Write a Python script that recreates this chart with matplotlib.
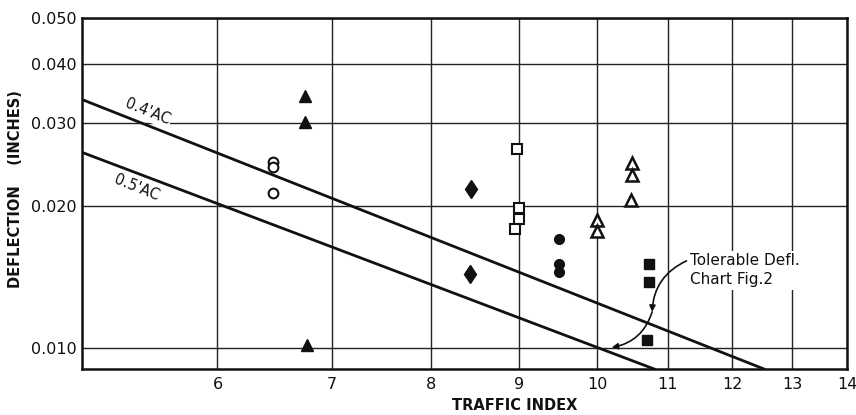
import matplotlib
matplotlib.use("Agg")
import matplotlib.pyplot as plt
from matplotlib.ticker import FixedLocator, FixedFormatter, NullLocator

# data (traffic index vs deflection, inches)
open_circle_x = [6.47, 6.47, 6.47]
open_circle_y = [0.0248, 0.0242, 0.0213]
fill_tri_x = [6.75, 6.75, 6.77]
fill_tri_y = [0.0341, 0.0301, 0.01015]
diamond_x = [8.44, 8.43]
diamond_y = [0.0217, 0.01434]
open_sq_x = [8.98, 9.0, 9.0, 8.95]
open_sq_y = [0.0264, 0.0198, 0.0188, 0.0179]
fill_circle_x = [9.5, 9.5, 9.5]
fill_circle_y = [0.0170, 0.0151, 0.0145]
open_tri_x = [10.48, 10.48, 10.47, 10.0, 10.0]
open_tri_y = [0.0246, 0.0232, 0.0206, 0.0187, 0.0177]
fill_sq_x = [10.72, 10.72, 10.7]
fill_sq_y = [0.0151, 0.0138, 0.0104]

# tolerable deflection lines
ac04_x = [5.0, 12.52]
ac04_y = [0.0336, 0.00903]
ac05_x = [5.0, 10.8]
ac05_y = [0.02597, 0.00903]

x_ticks = [6, 7, 8, 9, 10, 11, 12, 13, 14]
x_labels = ["6", "7", "8", "9", "10", "11", "12", "13", "14"]
y_ticks = [0.010, 0.020, 0.030, 0.040, 0.050]
y_labels = ["0.010", "0.020", "0.030", "0.040", "0.050"]

fig = plt.figure(figsize=(8.56, 4.15), dpi=100)
ax = fig.add_axes([82 / 856, 1 - 369 / 415, 765 / 856, 351 / 415])
ax.set_xscale("log")
ax.set_yscale("log")
ax.set_xlim(5.0, 14.0)
ax.set_ylim(0.00903, 0.05)

ax.xaxis.set_major_locator(FixedLocator(x_ticks))
ax.xaxis.set_major_formatter(FixedFormatter(x_labels))
ax.xaxis.set_minor_locator(NullLocator())
ax.yaxis.set_major_locator(FixedLocator(y_ticks))
ax.yaxis.set_major_formatter(FixedFormatter(y_labels))
ax.yaxis.set_minor_locator(NullLocator())
ax.tick_params(length=0, labelsize=11.5, colors="#111")
ax.tick_params(axis="x", pad=6)
ax.tick_params(axis="y", pad=4)
ax.grid(True, color="#222", linewidth=1.0)
ax.set_axisbelow(True)
for s in ax.spines.values():
    s.set_linewidth(1.8)
    s.set_color("#111")

ax.plot(ac04_x, ac04_y, color="#111", lw=2.0, zorder=3)
ax.plot(ac05_x, ac05_y, color="#111", lw=2.0, zorder=3)

k = dict(linestyle="none", color="#111", zorder=4)
ax.plot(open_circle_x, open_circle_y, marker="o", ms=7, mfc="white", mew=1.5, **k)
ax.plot(fill_tri_x, fill_tri_y, marker="^", ms=8, **k)
ax.plot(diamond_x, diamond_y, marker="d", ms=9.5, **k)
ax.plot(open_sq_x, open_sq_y, marker="s", ms=7, mfc="white", mew=1.5, **k)
ax.plot(fill_circle_x, fill_circle_y, marker="o", ms=7, **k)
ax.plot(open_tri_x, open_tri_y, marker="^", ms=8, mfc="white", mew=1.8, **k)
ax.plot(fill_sq_x, fill_sq_y, marker="s", ms=7, **k)

ax.text(5.46, 0.0316, "0.4'AC", rotation=-22, ha="center", va="center",
        fontsize=10.5, color="#111",
        bbox=dict(facecolor="white", edgecolor="none", pad=1))
ax.text(5.38, 0.0219, "0.5'AC", rotation=-22, ha="center", va="center",
        fontsize=10.5, color="#111")

ax.text(11.33, 0.01462, "Tolerable Defl.\nChart Fig.2", ha="left", va="center",
        fontsize=11, color="#111", linespacing=1.3,
        bbox=dict(facecolor="white", edgecolor="none", pad=2), zorder=5)
ax.annotate("", xy=(10.77, 0.01193), xytext=(11.28, 0.0153),
            arrowprops=dict(arrowstyle="-|>", color="#111", lw=1.2,
                            mutation_scale=9, shrinkA=0, shrinkB=0,
                            connectionstyle="arc3,rad=0.3"), zorder=5)
ax.annotate("", xy=(10.2, 0.01003), xytext=(10.77, 0.01193),
            arrowprops=dict(arrowstyle="-|>", color="#111", lw=1.2,
                            mutation_scale=9, shrinkA=0, shrinkB=0,
                            connectionstyle="arc3,rad=-0.3"), zorder=5)

ax.set_xlabel("TRAFFIC INDEX", fontsize=10.5, fontweight="bold", color="#111")
ax.xaxis.set_label_coords(0.566, -0.082)
ax.set_ylabel("DEFLECTION    (INCHES)", fontsize=10.5, fontweight="bold", color="#111")
ax.yaxis.set_label_coords(-0.077, 0.513)

fig.savefig("out.png", dpi=100)
